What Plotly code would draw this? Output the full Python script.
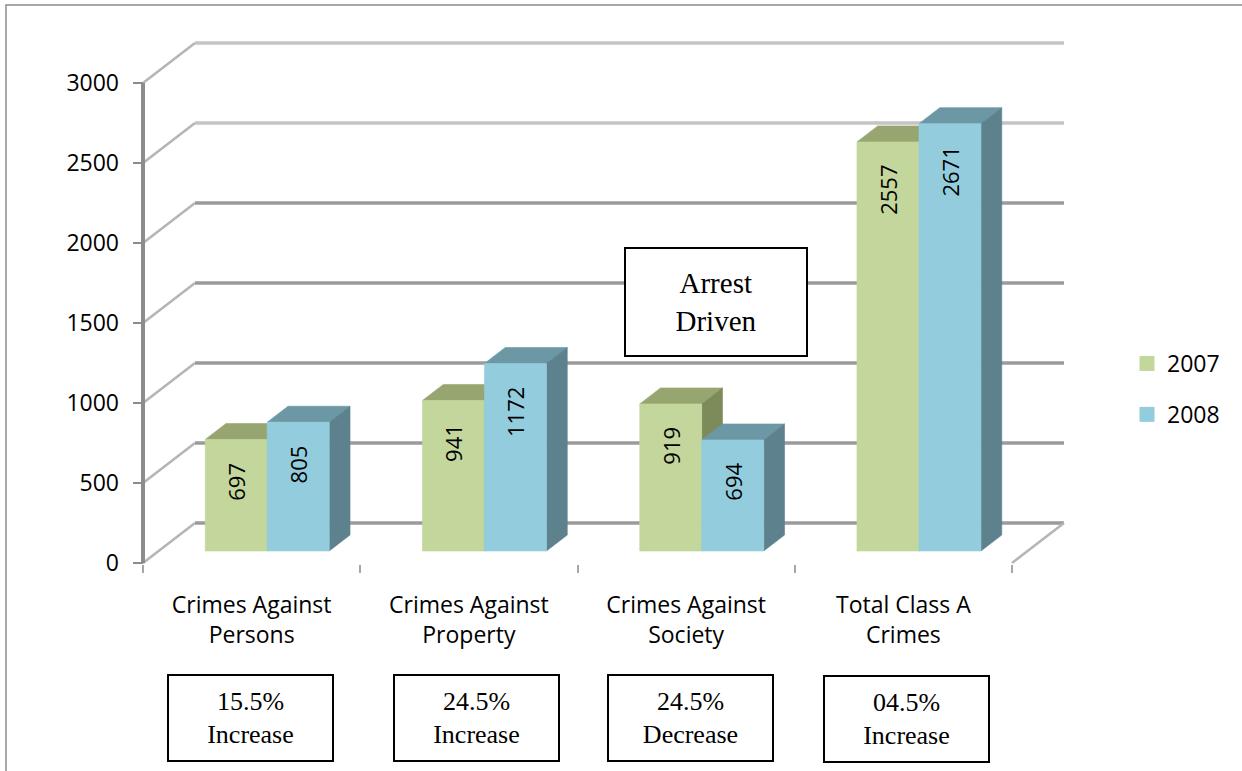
import plotly.graph_objects as go

# ---------------- data ----------------
categories = ["Crimes Against<br>Persons", "Crimes Against<br>Property",
              "Crimes Against<br>Society", "Total Class A<br>Crimes"]
series_names = ["2007", "2008"]
values_2007 = [697, 941, 919, 2557]
values_2008 = [805, 1172, 694, 2671]
change_labels = ["15.5%<br>Increase", "24.5%<br>Increase",
                 "24.5%<br>Decrease", "04.5%<br>Increase"]
y_ticks = [0, 500, 1000, 1500, 2000, 2500, 3000]
note_text = "Arrest<br>Driven"

# ---------------- styling / geometry ----------------
W, H = 1242, 771
ML, MR, MT, MB = 133, 172, 40, 198
plot_w = W - ML - MR
plot_h = H - MT - MB
KX = 217.25          # px per category unit
KY = 0.16            # px per value unit
x_lo = -0.5 - 10 / KX
x_hi = x_lo + plot_w / KX
y_lo = -10 / KY
y_hi = y_lo + plot_h / KY

DX = 52 / KX         # full floor depth (x units)
DY = 40 / KY         # full floor depth (value units)
FRONT_D = 0.3        # depth of bar front faces
BAR_D = 0.4          # depth of bars
BAR_W = 62 / KX

front_cols = ["#c3d69b", "#93cddd"]
top_cols = ["#97a670", "#6c98a5"]
side_cols = ["#7d8a5a", "#5d828e"]

SANS = "Open Sans"
SERIF = "Liberation Serif"

fig = go.Figure()


def poly(xs, ys, color):
    fig.add_trace(go.Scatter(
        x=xs + [xs[0]], y=ys + [ys[0]], mode="lines", fill="toself",
        fillcolor=color, line=dict(width=0.6, color=color),
        hoverinfo="skip", showlegend=False))


def seg(xs, ys, color, width):
    fig.add_trace(go.Scatter(
        x=xs, y=ys, mode="lines", line=dict(color=color, width=width),
        hoverinfo="skip", showlegend=False))


n = len(categories)
left_edge = -0.5
right_edge = n - 0.5

# side-wall diagonals and back-wall gridlines
for v in y_ticks:
    light = v >= 2500
    seg([left_edge, left_edge + DX], [v, v + DY], "#b5b5b5", 2.5)
    seg([left_edge + DX, right_edge + DX], [v + DY, v + DY],
        "#c4c4c4" if light else "#9b9b9b", 3.5)
# right floor edge
seg([right_edge + DX, right_edge], [DY, 0], "#b5b5b5", 2.5)
# front value axis line
seg([left_edge, left_edge], [0, y_ticks[-1]], "#8c8c8c", 4)

# bars (3D boxes)
all_vals = [values_2007, values_2008]
bdx = BAR_D * DX
bdy = BAR_D * DY
base = FRONT_D * DY
for i in range(n):
    gc = i + FRONT_D * DX
    for s, vals in enumerate(all_vals):
        xl = gc - BAR_W + s * BAR_W
        xr = xl + BAR_W
        top = base + vals[i]
        # top face
        poly([xl, xr, xr + bdx, xl + bdx], [top, top, top + bdy, top + bdy], top_cols[s])
        # side face
        poly([xr, xr + bdx, xr + bdx, xr], [base, base + bdy, top + bdy, top], side_cols[s])
        # front face
        poly([xl, xr, xr, xl], [base, base, top, top], front_cols[s])
        fig.add_annotation(
            x=(xl + xr) / 2, y=top, xref="x", yref="y", text=str(vals[i]),
            textangle=-90, showarrow=False, xanchor="center", yanchor="top",
            yshift=-21, font=dict(family=SANS, size=22, color="#000000"))

# legend entries
for s, name in enumerate(series_names):
    fig.add_trace(go.Scatter(
        x=[None], y=[None], mode="markers", name=name, legendgroup=name,
        marker=dict(symbol="square", size=15, color=front_cols[s]),
        showlegend=True))


def px_x(p):
    return (p - ML) / plot_w


def px_y(p):
    return (H - MB - p) / plot_h


# percentage-change boxes below categories
box_centers_px = [250.5, 476.5, 690.5, 906.5]
box_y_px = [717.5, 718, 718, 719.5]
for i, txt in enumerate(change_labels):
    fig.add_annotation(
        x=px_x(box_centers_px[i]), y=px_y(box_y_px[i]), xref="paper", yref="paper",
        text=txt, showarrow=False, xanchor="center", yanchor="middle",
        width=163, height=84, align="center", valign="middle",
        bordercolor="#000000", borderwidth=2, borderpad=0, bgcolor="#ffffff",
        font=dict(family=SERIF, size=26, color="#000000"))

# "Arrest Driven" note box
fig.add_annotation(
    x=px_x(716), y=px_y(302), xref="paper", yref="paper", text=note_text,
    showarrow=False, xanchor="center", yanchor="middle",
    width=180, height=106, align="center", valign="middle",
    bordercolor="#000000", borderwidth=2, borderpad=0, bgcolor="#ffffff",
    font=dict(family=SERIF, size=29, color="#000000"))

# outer chart frame
fig.add_shape(type="rect", xref="paper", yref="paper",
              x0=px_x(6), x1=px_x(1260), y0=px_y(790), y1=px_y(5),
              line=dict(color="#8c8c8c", width=1.5), fillcolor="rgba(0,0,0,0)")

fig.update_layout(
    width=W, height=H,
    margin=dict(l=ML, r=MR, t=MT, b=MB, pad=0),
    paper_bgcolor="#ffffff", plot_bgcolor="#ffffff",
    hovermode=False,
    showlegend=True,
    legend=dict(x=px_x(1127), y=px_y(389), xanchor="left", yanchor="middle",
                font=dict(family=SANS, size=23, color="#000000"),
                tracegroupgap=18, bgcolor="rgba(0,0,0,0)", borderwidth=0),
    xaxis=dict(range=[x_lo, x_hi], tickmode="array", tickvals=list(range(n)),
               ticktext=categories, ticks="", showgrid=False, zeroline=False,
               showline=False, ticklabelstandoff=16,
               tickfont=dict(family=SANS, size=23, color="#000000"),
               minor=dict(tickmode="array",
                          tickvals=[k - 0.5 for k in range(n + 1)],
                          ticks="inside", ticklen=8, tickwidth=1.5,
                          tickcolor="#a6a6a6", showgrid=False)),
    yaxis=dict(range=[y_lo, y_hi], tickmode="array", tickvals=y_ticks,
               ticks="inside", ticklen=10, tickwidth=2, tickcolor="#8c8c8c",
               showgrid=False, zeroline=False, showline=False,
               ticklabelstandoff=13,
               tickfont=dict(family=SANS, size=23, color="#000000")),
)

fig.write_html("out.html", config={"displayModeBar": False},
               post_script="document.body.style.margin='0';")
